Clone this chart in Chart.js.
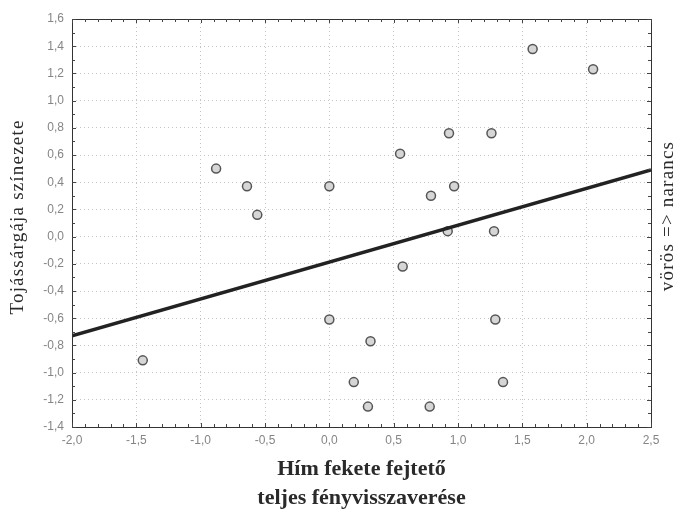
<!DOCTYPE html>
<html>
<head>
<meta charset="utf-8">
<script src="https://cdn.jsdelivr.net/npm/chart.js@4/dist/chart.umd.min.js"></script>
<style>
    html, body { margin: 0; padding: 0; background: #fff; }
    #wrap { width: 682px; height: 515px; }
</style>
</head>
<body>
<div id="wrap"><canvas id="myScatterChart" width="682" height="515"></canvas></div>
<script>
// Valeurs
const xVals = [-1.45, -0.88, -0.64, -0.56, 0.00, 0.00, 0.19, 0.30, 0.32, 0.55, 0.57,
               0.78, 0.79, 0.92, 0.93, 0.97, 1.26, 1.28, 1.29, 1.35, 1.58, 2.05];
const yVals = [-0.91, 0.50, 0.37, 0.16, 0.37, -0.61, -1.07, -1.25, -0.77, 0.61, -0.22,
               -1.25, 0.30, 0.04, 0.76, 0.37, 0.76, 0.04, -0.61, -1.07, 1.38, 1.23];

// droite de régression (extrémités)
const lineX = [-2.0, 2.5];
const lineY = [-0.73, 0.49];

const xTicks = [-2.0, -1.5, -1.0, -0.5, 0.0, 0.5, 1.0, 1.5, 2.0, 2.5];
const yTicks = [-1.4, -1.2, -1.0, -0.8, -0.6, -0.4, -0.2, 0.0, 0.2, 0.4, 0.6, 0.8, 1.0, 1.2, 1.4, 1.6];

const yTitle = 'Tojássárgája színezete';
const xTitle = ['Hím fekete fejtető', 'teljes fényvisszaverése'];
const rightTitle = 'vörös => narancs';

function fmt(v) {
    return Number(v).toFixed(1).replace('.', ',');
}

// cadre + petites graduations vers l'intérieur + titres
const framePlugin = {
    id: 'frame',
    afterDraw(chart) {
        const ctx = chart.ctx;
        const a = chart.chartArea;
        const xs = chart.scales.x;
        const ys = chart.scales.y;
        ctx.save();
        ctx.strokeStyle = '#333';
        ctx.lineWidth = 1;
        ctx.strokeRect(a.left + 0.5, a.top + 0.5, a.right - a.left, a.bottom - a.top);

        ctx.strokeStyle = '#444';
        for (let i = -20; i <= 25; i++) {
            const px = Math.round(xs.getPixelForValue(i / 10)) + 0.5;
            const len = (i % 5 === 0) ? 4 : 3;
            ctx.beginPath();
            ctx.moveTo(px, a.bottom); ctx.lineTo(px, a.bottom - len);
            ctx.moveTo(px, a.top); ctx.lineTo(px, a.top + len);
            ctx.stroke();
        }
        for (let i = -14; i <= 16; i++) {
            const py = Math.round(ys.getPixelForValue(i / 10)) + 0.5;
            const len = (i % 2 === 0) ? 4 : 3;
            ctx.beginPath();
            ctx.moveTo(a.left, py); ctx.lineTo(a.left + len, py);
            ctx.moveTo(a.right, py); ctx.lineTo(a.right - len, py);
            ctx.stroke();
        }

        ctx.fillStyle = '#2a2a2a';
        ctx.textAlign = 'center';
        ctx.textBaseline = 'middle';

        // titre axe Y
        ctx.save();
        ctx.translate(18, 217);
        ctx.rotate(-Math.PI / 2);
        ctx.font = '19px "Liberation Serif", "DejaVu Serif", serif';
        ctx.letterSpacing = '1.2px';
        ctx.fillText(yTitle, 0, 0);
        ctx.restore();

        // titre à droite
        ctx.save();
        ctx.translate(668, 216);
        ctx.rotate(-Math.PI / 2);
        ctx.font = '19px "Liberation Serif", "DejaVu Serif", serif';
        ctx.letterSpacing = '1.2px';
        ctx.fillText(rightTitle, 0, 0);
        ctx.restore();

        // titre axe X
        const cx = (a.left + a.right) / 2;
        ctx.font = 'bold 22px "Liberation Serif", "DejaVu Serif", serif';
        ctx.fillText(xTitle[0], cx, 469);
        ctx.fillText(xTitle[1], cx, 498);
        ctx.restore();
    }
};

function createScatter() {
    var myScatterChart = document.getElementById('myScatterChart').getContext('2d');
    return new Chart(myScatterChart, {
        type: 'scatter',
        data: {
            datasets: [{
                type: 'line',
                data: lineX.map((x, i) => ({ x: x, y: lineY[i] })),
                borderColor: '#222',
                borderWidth: 3.5,
                pointRadius: 0,
                fill: false
            }, {
                data: xVals.map((x, i) => ({ x: x, y: yVals[i] })),
                pointRadius: 4.5,
                pointBackgroundColor: '#d6d6d6',
                pointBorderColor: '#555',
                pointBorderWidth: 1.5
            }]
        },
        options: {
            responsive: false,
            animation: false,
            layout: { padding: { left: 0, top: 19, right: 31, bottom: 0 } },
            plugins: {
                legend: { display: false },
                tooltip: { enabled: false }
            },
            scales: {
                x: {
                    type: 'linear',
                    min: -2.0,
                    max: 2.5,
                    afterFit: scale => { scale.height = 88; },
                    afterBuildTicks: scale => { scale.ticks = xTicks.map(v => ({ value: v })); },
                    grid: {
                        color: '#c4c4c4',
                        lineWidth: 1,
                        drawTicks: false
                    },
                    // grille en pointillés
                    border: { display: false, dash: [1, 3] },
                    ticks: {
                        padding: 6,
                        color: '#858585',
                        font: { family: '"Liberation Sans", Arial, sans-serif', size: 12 },
                        callback: v => fmt(v)
                    }
                },
                y: {
                    type: 'linear',
                    min: -1.4,
                    max: 1.6,
                    afterFit: scale => { scale.width = 72; },
                    afterBuildTicks: scale => { scale.ticks = yTicks.map(v => ({ value: v })); },
                    grid: {
                        color: '#c4c4c4',
                        lineWidth: 1,
                        drawTicks: false
                    },
                    border: { display: false, dash: [1, 3] },
                    ticks: {
                        padding: 8,
                        color: '#858585',
                        font: { family: '"Liberation Sans", Arial, sans-serif', size: 12 },
                        callback: v => fmt(v)
                    }
                }
            }
        },
        plugins: [framePlugin]
    });
}

createScatter();
</script>
</body>
</html>
